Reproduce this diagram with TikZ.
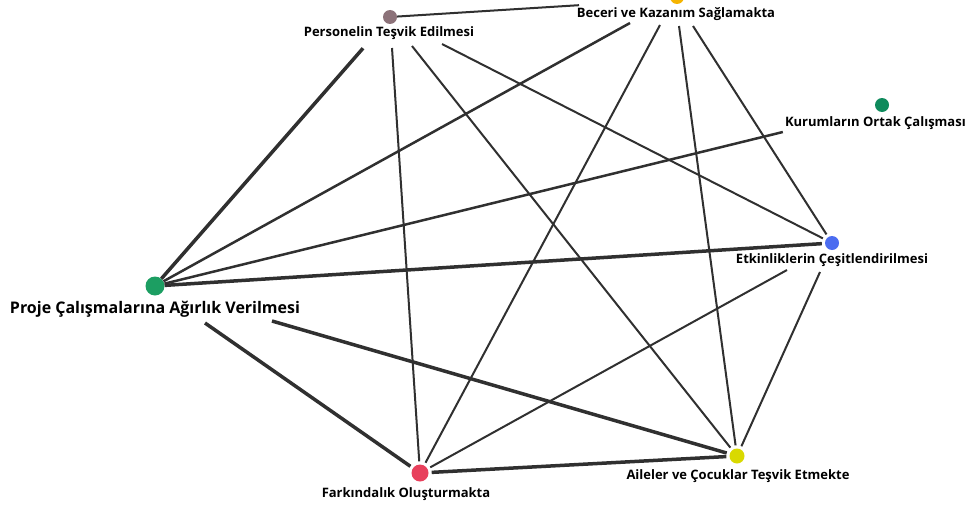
\documentclass[tikz,border=0pt]{standalone}
\usepackage{fontspec}
\setmainfont{Open Sans}
\usepackage{xcolor}
\usetikzlibrary{calc}

\definecolor{cPers}{HTML}{8C7279}
\definecolor{cBec}{HTML}{F5B400}
\definecolor{cKur}{HTML}{0E8A5C}
\definecolor{cEtk}{HTML}{4B6CF0}
\definecolor{cAil}{HTML}{D9D900}
\definecolor{cFar}{HTML}{E8405C}
\definecolor{cPro}{HTML}{1C9E62}
\definecolor{cLine}{HTML}{303030}

\begin{document}
\begin{tikzpicture}[x=1pt,y=-1pt,
                    dot/.style={circle,inner sep=0pt,minimum size=14pt},
                    lbl/.style={inner sep=0pt,font=\bfseries\fontsize{13}{15}\selectfont},
                    big lbl/.style={inner sep=0pt,font=\bfseries\fontsize{16}{18}\selectfont},
                    thin edge/.style={draw=cLine,line width=2pt,shorten >=3pt},
                    mid edge/.style={draw=cLine,line width=2.5pt},
                    thick edge/.style={draw=cLine,line width=3.5pt,shorten >=3pt}]

 \useasboundingbox (0,0) rectangle (968,511);

 % dots
 \node[dot,fill=cPers] (P) at (390,17) {};
 \node[dot,fill=cBec] (B) at (677,-3) {};
 \node[dot,fill=cKur] (K) at (882,105) {};
 \node[dot,fill=cEtk] (E) at (832,243) {};
 \node[dot,fill=cAil,minimum size=15pt] (A) at (737,456) {};
 \node[dot,fill=cFar,minimum size=17pt] (F) at (420,473) {};
 \node[dot,fill=cPro,minimum size=19pt] (PR) at (155,286) {};

 % labels
 \node[lbl] (Plab) at (389,33) {Personelin Teşvik Edilmesi};
 \node[lbl] (Blab) at (676,14) {Beceri ve Kazanım Sağlamakta};
 \node[lbl,anchor=east] (Klab) at (966,123) {Kurumların Ortak Çalışması};
 \node[lbl] (Elab) at (832,260) {Etkinliklerin Çeşitlendirilmesi};
 \node[lbl] (Alab) at (738,476) {Aileler ve Çocuklar Teşvik Etmekte};
 \node[lbl] (Flab) at (406,494) {Farkındalık Oluşturmakta};
 \node[big lbl] (PRlab) at (155,309) {Proje Çalışmalarına Ağırlık Verilmesi};

 % edges from Proje
 \path[thick edge] (PR) -- ([shift={(-24,13)}]Plab.center);
 \path[mid edge] (PR) -- ([shift={(-46,9)}]Blab.center);
 \path[mid edge] (PR) -- ([shift={(-2,9)}]Klab.west);
 \path[thick edge] (PR) -- (E);
 \path[thick edge] ([shift={(50,14)}]PRlab.center) -- (F);
 \path[thick edge] ([shift={(117,12)}]PRlab.center) -- (A);

 % edges from Personel
 \path[thin edge] (P) -- ([shift={(-94,-9)}]Blab.center);
 \path[thin edge] ([shift={(3,15)}]Plab.center) -- (F);
 \path[thin edge] ([shift={(23,13)}]Plab.center) -- (A);
 \path[thin edge] ([shift={(53,11)}]Plab.center) -- (E);

 % edges from Beceri
 \path[thin edge] ([shift={(-16,11)}]Blab.center) -- (F);
 \path[thin edge] ([shift={(3,12)}]Blab.center) -- (A);
 \path[thin edge] ([shift={(17,12)}]Blab.center) -- (E);

 % edges from Etkinlik
 \path[thin edge] ([shift={(-45,10)}]Elab.center) -- (F);
 \path[thin edge] ([shift={(-12,12)}]Elab.center) -- (A);

 \path[thick edge,shorten <=3pt] (F) -- (A);

\end{tikzpicture}
\end{document}
